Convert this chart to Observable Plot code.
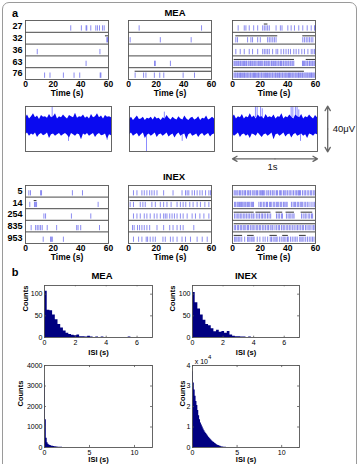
<!DOCTYPE html>
<html><head><meta charset="utf-8">
<script src="https://cdn.jsdelivr.net/npm/d3@7"></script>
<script src="https://cdn.jsdelivr.net/npm/@observablehq/plot@0.6"></script>
<style>
html,body{margin:0;padding:0;background:#fff;overflow:hidden;}
#root{position:relative;width:361px;height:464px;font-family:'Liberation Sans',Arial,sans-serif;}
#border{position:absolute;left:2px;top:2px;width:355px;height:480px;border:1px solid #9a9a9a;border-radius:7px;box-sizing:border-box;}
.lbl{position:absolute;transform:translate(-50%,-50%);white-space:nowrap;color:#000;line-height:1;}
svg [aria-label="x-axis label"] text, svg [aria-label="y-axis label"] text{font-weight:bold;}
</style>
</head><body><div id="root"><div id="border"></div></div>
<script>
// ---------------- DATA ----------------
const meaRowLabels = ["27","32","36","63","76"];
const inexRowLabels = ["5","14","254","835","953"];
const timeTicks = [0,20,40,60];

// MEA rasters: spike times (s) per row
const meaA = [
  [32.7,40.4,43.8,44.3,47.2,50.8,52,53.5,55.7,56.9],
  [58.8,59.3],
  [8.5,53.8],
  [43.8],
  [13.8,17.7,27.4,35.1,39.2,54,54.5]
];
const meaABursts = [[],[[57.8,60]],[],[],[]];
const meaB = [
  [7.7,52.8],
  [1.2,23,45.3],
  [],
  [18.9,19.3,30.3],
  [4.8,10.9,12.6,18.7,22.6,25.5,39.5,47.7]
];
const meaBBursts = [[],[],[],[],[[4.8,60]]];
const meaC = [
  [4.1,8.5,9.7,12.1,15.3,18.2,21.8,23,24.2,25.4,26.6,31.5,34.6,35.8,40,42.4,44.8,47.9,50.8,54,56.9,59.3,59.8],
  [2.4,3.6,10.9,13.3,14.5,18.2,20.1,25.4,26.6,27.8,29.1,30.3,31.5,50.8,52,53.3,54.5,55.7,56.9,58.1],
  [2.4,5.6,8.5,12.1,14.5,18.2,21.8,23,24.2,25.4,26.6,29,31.5,32.7,35.1,37,38.7,40.4,41.9,44.3,46,47.9,50.1,52,54.5,56.9,58.1,59.3],
  [1.1,1.8,2.6,3.3,4.1,4.7,5.6,6.2,7.1,8,8.7,9.6,10.2,11.3,12,12.9,13.5,14.4,15.4,16.1,16.9,17.8,18.7,19.4,20.3,21.1,21.9,23,23.6,24.5,25.5,26.2,27,28.1,28.7,29.6,30.5,31.2,32.1,33,33.7,34.7,35.4,36.5,37.1,38.1,38.9,40,40.7,41.7,42.4,43.5,44.3,50.6,51.3,52.1,53,53.9,54.5,55.6,56.2,57.3,58,58.9,59.6],
  [1.1,1.9,2.6,3.5,4.1,5,5.8,6.4,7.3,8.1,8.7,9.6,10.4,11.1,11.9,12.8,13.4,14.3,15.2,15.9,16.6,17.5,18.3,18.9,19.8,20.7,21.3,22.2,23,23.8,24.5,25.3,26.2,26.9,27.7,28.6,29.2,30.1,31,31.6,32.5,33.4,34,34.9,35.8,36.4,37.3,38.1,38.8,39.6,40.5,41.2,42,42.9,43.6,44.4,45.3,46,46.8,47.7,48.3,49.2,50.1,50.7,51.6,52.4,53.2,54,54.7,55.6,56.5,57.1,58,58.8,59.6]
];
const meaCBursts = [[[23,25.6]],[[2.4,32.7],[50.8,60]],[],[[1.2,44.8],[53.3,60]],[[1.2,52]]];

// INEX rasters
const inexA = [
  [2.4,3.6,10.9,11.6,33.9,41.2],
  [3.1,6.5,7.3,8,52.5],
  [13.3,14.5,33.2,47.2],
  [4.1,7.3,8.5,9.7,10.9,12.1,15.7,22.5,37,38,39.9,53.5],
  [12.8,18.2,18.6,19.4,27.4]
];
const inexABursts = [[],[[6.3,8.3]],[],[],[]];
const inexB = [
  [3.6,6.1,9.7,11.4,13.3,15.3,16.9,18.6,20.6,25.4,32.2,38.7,41.2,42.4,43.6,46,47.7,49.6,51.6,53.3,55.7,58.1,59.3],
  [1.2,3.6,8.5,10.4,12.1,16.9,19.4,23,25.4,27.8,30.8,35.1,37.5,39.5,41.4,44.3,46.7,49.6,52,55.2,58.1],
  [3.6,6.1,8.5,11.4,13.3,15.7,18.6,20.6,23,25.4,26.6,27.8,29.8,31.5,33.2,35.1,37.5,39.5,42.4,46,48.4,51.6,54.5,58.1],
  [2.9,4.1,6.5,8,9.7,11.4,13.3,15.3,20.6,25.4,29.8,32.2,35.1,37.5,39.5,47.2],
  [3.6,7.3,9.7,12.8,13.8,15.7,17.7,19.4,24.9,26.6,30.3,32.2,35.1,38.7,41.2,44.8,49.6,53.3,56.9]
];
const inexBBursts = [[],[[1.2,60]],[],[],[]];
const inexC = [
  [1.2,2,3.1,3.9,5,5.7,6.9,7.6,8.8,9.4,10.7,11.5,12.6,13.2,14.6,15.5,16.3,17.4,18.1,19.3,20.2,21.1,21.6,22.3,23,24.4,25.6,26.3,27.5,28.7,29.4,30.6,31.8,32.5,33.9,34.7,35.6,36.9,37.8,38.6,39.7,40.9,41.8,43,44.1,45.3,46.2,47.3,47.9,48.5,49.2,50.6,51.8,52.7,54,55.1,56.3,57.2,58.4,59.5],
  [1.5,2.3,3.4,4.2,5.1,5.9,6.6,7.4,8.3,9.1,9.8,10.9,11.7,12.5,13.6,14.4,15.2,19.1,20.3,21.2,22.5,23.4,24.6,25.3,26.7,27.5,28.4,29.8,30.6,31.9,32.7,33.5,34.8,35.6,36.9,37.8,38.7,39.5,42.6,43.8,44.7,45.5,46.8,47.6,48.9,49.7,50.5,51.8,52.9,54.1,55.3,56.8,58.2,59.4],
  [1.5,2.6,3.8,4.7,5.9,6.8,8.1,9,10.2,11.3,12.4,13.6,14.8,15.5,17.2,18.4,19.5,20.8,21.7,22.9,24,25.3,26.4,27.6,31.8,33,34.1,35.5,36.1,39,40.2,41.4,42.3,43.6,44.5,49.9,51.1,52.4,53.2,54.7,55.8,57.1,57.9],
  [1.3,2.2,3.5,4.3,5.6,6.4,7.7,8.5,9.6,10.8,11.6,12.9,14.1,15,16.2,17.5,18.3,19.6,20.4,21.8,22.7,23.9,25.1,26,27.3,28.5,29.2,30.7,31.9,33.1,34,35.4,36.6,37.4,38.8,39.9,41.1,42.2,43.5,44.6,45.9,47,48.1,49.3,50.5,51.4,52.8,53.9,55.2,56.1,57.5,58.6,59.6],
  [1.5,2.4,3.3,4.5,5.4,6.7,8.8,10.9,11.8,12.7,13.9,14.8,15.6,17.9,19.8,22.1,23.6,25.4,27.3,28.2,29.4,30.6,31.5,32.3,33.9,35.2,36.5,37.4,38.6,39.8,40.3,41.9,43.2,44.5,45.7,46.8,48.6,49.5,50.4,51.6,52.9,54.2,55.5,56.7,57.8,58.9]
];
const inexCBursts = [[],[],[[1.2,15.7],[16.9,27.8],[31.5,36.3],[38.7,44.8],[49.6,58]],[[1.2,60]],[[1.2,7.3],[10.9,15.7],[27.1,32.4],[36.3,40.4],[48.4,53.3]]];

// Raw traces (1 s): upper / lower envelope of the noise band (µV)
const trace1Top = [10,12.5,9,11,13.5,10,11.5,8.5,12,10.5,11,9.5,13,10,11,13.5,9,11,10,12.5,10.5,9,12,11,10,14,9.5,11,10.5,12.5,9.5,11,9,13,10,11,13.5,10,11.5,9,12,10.5,11,10];
const trace1Bot = [-5,-3.5,-6.5,-4.5,-5.5,-3.5,-7.5,-5,-4,-6,-5,-3.5,-8.5,-5,-4.5,-6.5,-5,-4,-6.5,-5,-4,-5.5,-8,-4,-5,-6.5,-4.5,-5,-9.5,-4.5,-5.5,-4,-6.5,-5,-4,-7.5,-5,-4,-6,-5.5,-4.5,-9,-5,-6];
const trace2Top = [8.5,10.5,7.5,9.5,11.5,8.5,9,10.5,7.5,9.5,9,10.5,8,11,9,9.5,7.5,10,9,12,9.5,8,10.5,9,8,11,9,8,11.5,9,7.5,9.5,10.5,8,9,11,7.5,9.5,9,11.5,8,9,10.5,9];
const trace2Bot = [-5,-3.5,-6.5,-5,-4,-7,-5,-3.5,-8.5,-5.5,-4.5,-6.5,-5,-3.5,-7.5,-5,-4.5,-6.5,-5,-3.5,-7,-5.5,-4.5,-8,-5,-3.5,-6.5,-5,-4.5,-9.5,-5,-4,-6.5,-5.5,-4.5,-7.5,-5,-4,-6.5,-5,-4,-7,-5,-4.5];
const trace3Top = [10.5,12.5,9,11,10,13,9,11,10,13.5,10,11.5,9,12.5,10.5,11,9,13,10,11,10,12.5,9,11,10.5,13.5,9,11,10,12.5,10.5,9,12.5,11,10,13,9,11,10,12.5,10.5,9,12,10];
const trace3Bot = [-4.5,-6.5,-5,-3.5,-7.5,-5,-4.5,-6.5,-5,-8.5,-4.5,-5,-6.5,-3.5,-5.5,-7.5,-5,-4.5,-6.5,-5,-3.5,-9.5,-5,-4.5,-6.5,-5,-3.5,-7,-5,-4.5,-8,-5,-4,-6.5,-5.5,-4.5,-6.5,-5,-8.5,-4.5,-5,-6.5,-4.5,-5];
const trace1Spikes = [{t:0.31,a:10,b:19.5},{t:0.5,a:-5,b:-11},{t:0.95,a:-5,b:-10}];
const trace2Spikes = [{t:0.2,a:-5,b:-20},{t:0.41,a:9,b:15},{t:0.62,a:-5,b:-11}];
const trace3Spikes = [{t:0.27,a:10,b:20},{t:0.29,a:10,b:20},{t:0.33,a:10,b:20},{t:0.35,a:10,b:18},{t:0.69,a:10,b:20},{t:0.71,a:10,b:20},{t:0.74,a:10,b:20},{t:0.76,a:10,b:20},{t:0.78,a:10,b:17},{t:0.8,a:-5,b:-11}];

// ISI histograms (counts per bin)
const isiMeaSmallBin = 0.175;
const isiMeaSmall = [107,63,62,52,41,30,22,15,10,7,5,4,6,2,2,1,3,1,0,1,0,1,0,0,0,0,0,0,0,0,0,1];
const isiInexSmallBin = 0.175;
const isiInexSmall = [104,80,66,52,40,30,27,20,13,17,12,14,10,14,6,3,2,2,1,1,0,1];
const isiMeaLargeBin = 0.1;
const isiMeaLarge = [3250,1350,450,230,160,120,95,80,65,55,45,40,33,28,22,18,15,12,10,8,6,5,4,3,2,2,1,1];
const isiInexLargeBin = 0.1;
const isiInexLarge = [37000,31500,28000,25000,22500,20500,18000,15500,13500,12000,11000,10000,9000,8200,7400,6800,6200,5600,5000,4500,4000,3500,3100,2700,2400,2000,1700,1400,1150,950,750,550,420,300,220,150,100,70,40,20];

// ---------------- DRAWING ----------------
const root = document.getElementById("root");
const baseStyle = {background:"transparent", fontFamily:"'Liberation Sans', Arial, sans-serif", fontSize:"8px", overflow:"visible", color:"#000"};

function place(el, left, top){
  el.style.position = "absolute";
  el.style.left = left + "px";
  el.style.top = top + "px";
  el.style.maxWidth = "none";
  root.appendChild(el);
}
function label(text, x, y, size, weight){
  const d = document.createElement("div");
  d.className = "lbl";
  d.innerHTML = text;
  d.style.left = x + "px"; d.style.top = y + "px";
  d.style.fontSize = size + "px"; d.style.fontWeight = weight || "normal";
  root.appendChild(d);
}

function raster(rows, bursts, rowLabels, fx, fy, fw, fh){
  const ml = 22, mr = 8, mt = 2, mb = 20;
  const spikes = rows.flatMap((r,i) => r.map(t => ({t, r:i})));
  const bs = bursts.flatMap((b,i) => b.map(([a,c]) => ({a, c, r:i})));
  const marks = [
    Plot.ruleY([1,2,3,4], {stroke:"#333", strokeWidth:0.9}),
    Plot.ruleX(spikes, {x:"t", y1:d => d.r + 0.45, y2:d => d.r + 0.9, stroke:"#4a4ae8", strokeWidth:0.8, strokeOpacity:0.8}),
    Plot.ruleY(bs, {y:d => d.r + 0.3, x1:"a", x2:"c", stroke:"#333", strokeWidth:1}),
    Plot.frame({stroke:"#555", strokeWidth:0.9}),
    Plot.axisX({ticks:timeTicks, tickFormat:d => String(d), tickSize:0, tickPadding:1, fontSize:8.5, fontWeight:"bold", label:"Time (s)", labelAnchor:"center", labelArrow:"none", labelOffset:16})
  ];
  if (rowLabels) marks.push(Plot.axisY({ticks:[0.5,1.5,2.5,3.5,4.5], tickFormat:d => rowLabels[Math.floor(d)], tickSize:0, tickPadding:3, fontSize:9, fontWeight:"bold", label:null}));
  const p = Plot.plot({
    width: fw + ml + mr, height: fh + mt + mb,
    marginLeft: ml, marginRight: mr, marginTop: mt, marginBottom: mb,
    style: baseStyle,
    x: {domain:[0,60], axis:null},
    y: {domain:[5,0], axis:null},
    marks
  });
  place(p, fx - ml, fy - mt);
}

function trace(top, bot, spikes, fx, fy, fw, fh, withScale){
  const ml = 2, mr = withScale ? 44 : 4, mt = 2, mb = withScale ? 22 : 4;
  const n = top.length;
  const env = top.map((v,i) => ({x: i/(n-1), hi: v, lo: bot[i]}));
  const marks = [
    Plot.ruleX(spikes, {x:"t", y1:"a", y2:"b", stroke:"#8c8cff", strokeWidth:1}),
    Plot.areaY(env, {x:"x", y1:"lo", y2:"hi", fill:"#0a0af0"}),
    Plot.frame({stroke:"#555", strokeWidth:0.9})
  ];
  if (withScale) {
    marks.push(
      Plot.arrow([{x1:1.12,y1:0,x2:1.12,y2:20.3},{x1:1.12,y1:0,x2:1.12,y2:-20.3}], {x1:"x1",y1:"y1",x2:"x2",y2:"y2", stroke:"#666", strokeWidth:1.3, headLength:6, bend:0}),
      Plot.arrow([{x1:0.5,y1:-26.5,x2:0,y2:-26.5},{x1:0.5,y1:-26.5,x2:1,y2:-26.5}], {x1:"x1",y1:"y1",x2:"x2",y2:"y2", stroke:"#666", strokeWidth:1.3, headLength:6, bend:0}),
      Plot.text(["40\u03bcV"], {x:1.31, y:0, fontSize:9.5, fill:"#111"}),
      Plot.text(["1s"], {x:0.47, y:-33.5, fontSize:9.5, fill:"#111"})
    );
  }
  const p = Plot.plot({
    width: fw + ml + mr, height: fh + mt + mb,
    marginLeft: ml, marginRight: mr, marginTop: mt, marginBottom: mb,
    style: baseStyle,
    x: {domain:[0,1], axis:null},
    y: {domain:[-20,20], axis:null},
    marks
  });
  place(p, fx - ml, fy - mt);
}

function hist(counts, bw, xmax, xticks, ymax, yticks, yfmt, fx, fy, fw, fh, countsDx, xTickPad, isiDy){
  const ml = 34, mr = 4, mt = 4, mb = 22;
  const steps = counts.map((c,i) => ({x:i*bw, y:c}));
  steps.push({x:counts.length*bw, y:0});
  const tl = ymax * 0.025, tlx = xmax * 0.018;
  const p = Plot.plot({
    width: fw + ml + mr, height: fh + mt + mb,
    marginLeft: ml, marginRight: mr, marginTop: mt, marginBottom: mb,
    style: baseStyle,
    x: {domain:[0,xmax], axis:null},
    y: {domain:[0,ymax], axis:null},
    marks: [
      Plot.areaY(steps, {x:"x", y:"y", curve:"step-after", fill:"#000080"}),
      Plot.ruleX(xticks, {x:d => d, y1:0, y2:tl, stroke:"#555", strokeWidth:0.8}),
      Plot.ruleX(xticks, {x:d => d, y1:ymax, y2:ymax - tl, stroke:"#555", strokeWidth:0.8}),
      Plot.ruleY(yticks, {y:d => d, x1:0, x2:tlx, stroke:"#555", strokeWidth:0.8}),
      Plot.ruleY(yticks, {y:d => d, x1:xmax, x2:xmax - tlx, stroke:"#555", strokeWidth:0.8}),
      Plot.frame({stroke:"#555", strokeWidth:0.9}),
      Plot.axisX({ticks:xticks, tickFormat:d => String(d), tickSize:0, tickPadding:xTickPad, fontSize:7, label:null}),
      Plot.axisY({ticks:yticks, tickFormat:yfmt, tickSize:0, tickPadding:2, fontSize:7, label:null}),
      Plot.text(["ISI (s)"], {frameAnchor:"bottom", dy:isiDy, lineAnchor:"middle", fontSize:7.5, fontWeight:"bold", fill:"#000"}),
      Plot.text(["Counts"], {frameAnchor:"left", dx:countsDx, rotate:-90, lineAnchor:"middle", fontSize:7.5, fontWeight:"bold", fill:"#000"})
    ]
  });
  place(p, fx - ml, fy - mt);
}

// Panel a
label("a", 15, 13, 11, "bold");
label("MEA", 175, 13, 9.5, "bold");
raster(meaA, meaABursts, meaRowLabels, 25, 20, 83, 59);
raster(meaB, meaBBursts, null, 128, 20, 83, 59);
raster(meaC, meaCBursts, null, 232, 20, 83, 59);

trace(trace1Top, trace1Bot, trace1Spikes, 25, 106, 86, 45, false);
trace(trace2Top, trace2Bot, trace2Spikes, 129, 106, 85, 45, false);
trace(trace3Top, trace3Bot, trace3Spikes, 232, 106, 85, 45, true);

label("INEX", 174, 177, 9.5, "bold");
raster(inexA, inexABursts, inexRowLabels, 25, 185, 83, 58);
raster(inexB, inexBBursts, null, 128, 185, 83, 58);
raster(inexC, inexCBursts, null, 232, 185, 83, 58);

// Panel b
label("b", 15, 272, 11, "bold");
label("MEA", 102, 276, 9.5, "bold");
label("INEX", 246, 276, 9.5, "bold");
hist(isiMeaSmall, isiMeaSmallBin, 7, [0,2,4,6], 120, [0,50,100], d => String(d), 44, 285, 108, 52, -19, 2.5, 15);
hist(isiInexSmall, isiInexSmallBin, 7, [0,2,4,6], 120, [0,50,100], d => String(d), 192, 285, 107, 52, -20, 2.5, 15);
hist(isiMeaLarge, isiMeaLargeBin, 12, [0,5,10], 4000, [0,1000,2000,3000,4000], d => String(d), 44, 365, 108, 82, -24, 2.5, 12);
hist(isiInexLarge, isiInexLargeBin, 12, [0,5,10], 40000, [0,10000,20000,30000,40000], d => String(d/10000), 192, 365, 107, 82, -10, 2.5, 12);
label("x 10<sup style='font-size:6px;position:relative;top:-1px'>4</sup>", 203, 360, 7, "normal");
</script>
</body></html>
